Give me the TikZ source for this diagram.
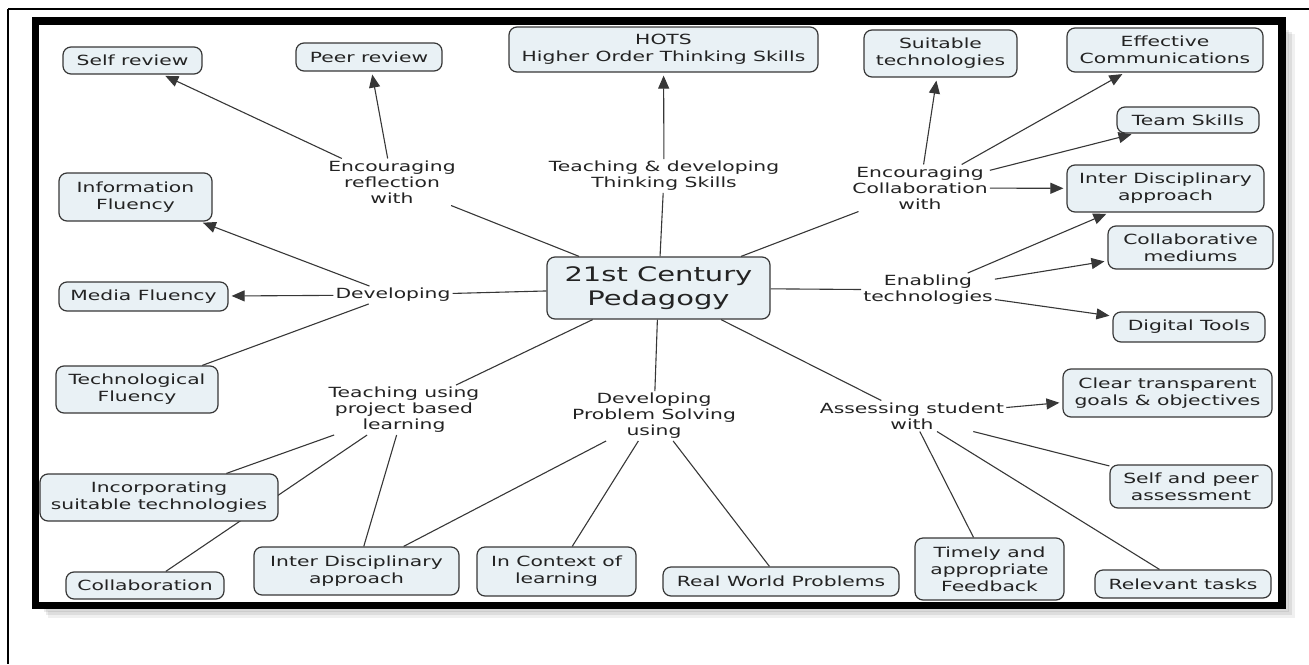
\documentclass[tikz,border=0pt]{standalone}
\usepackage{fontspec}
\newfontfamily\mapfont[FakeStretch=1.45]{DejaVu Sans}
\usepackage{tikz}
\usetikzlibrary{arrows.meta,backgrounds,positioning}

\definecolor{boxfill}{RGB}{233,241,245}
\definecolor{linkgray}{RGB}{55,55,55}
\definecolor{textgray}{RGB}{35,35,35}

\tikzset{
  concept/.style={draw=linkgray, line width=1.2pt, rounded corners=8pt, fill=boxfill, text=textgray, align=center, inner sep=0pt, font=\mapfont\fontsize{14}{17}\selectfont},
  linkphrase/.style={text=textgray, align=center, inner sep=2pt, font=\mapfont\fontsize{14}{16}\selectfont},
  tie/.style={draw=linkgray, line width=1.1pt},
  pointer/.style={tie, -{Triangle[length=13pt,width=11pt]}, shorten >=3pt},
}

\begin{document}
\begin{tikzpicture}[x=1pt,y=1pt,yscale=-1,xscale=1]
  \useasboundingbox (0,0) rectangle (1309,664);

  %Frame lines
  \draw [line width=1.5pt] (8,9) -- (1309,9);
  \draw [line width=1.5pt] (8,9) -- (8,664);
  %Shadow of the frame
  \draw [black, opacity=0.08, line width=7pt] (44,608) -- (1285,608) -- (1285,30);
  \draw [black, opacity=0.08, line width=7pt] (46,611) -- (1288,611) -- (1288,32);
  \draw [black, opacity=0.06, line width=7pt] (48,614) -- (1291,614) -- (1291,34);
  \draw [line width=7.5pt] (35.5,21) rectangle (1282,605.5);

  % Centre node
  \node [concept, minimum width=223pt, minimum height=62pt, font=\mapfont\fontsize{20}{24}\selectfont] (pedagogy) at (658.5,288) {21st Century\\Pedagogy};

  % Text Node
  \node [linkphrase] (refl) at (392,182) {Encouraging\\reflection\\with};
  \node [linkphrase] (think) at (664,176) {Teaching \& developing\\Thinking Skills};
  \node [linkphrase] (collab) at (920,188) {Encouraging\\Collaboration\\with};
  \node [linkphrase] (develop) at (393,295) {Developing};
  \node [linkphrase] (enable) at (928,290) {Enabling\\technologies};
  \node [linkphrase] (pbl) at (404,410) {Teaching using\\project based\\learning};
  \node [linkphrase] (dps) at (654,416) {Developing\\Problem Solving\\using};
  \node [linkphrase] (assess) at (912,416) {Assessing student\\with};

  % Concept boxes
  \node [concept, minimum width=139pt, minimum height=27pt] (selfrev) at (132.5,60.5) {Self review};
  \node [concept, minimum width=146pt, minimum height=28pt] (peerrev) at (369,57) {Peer review};
  \node [concept, minimum width=309pt, minimum height=45pt] (hots) at (663.5,49.5) {HOTS\\Higher Order Thinking Skills};
  \node [concept, minimum width=153pt, minimum height=47pt] (suitable) at (940.5,53.5) {Suitable\\technologies};
  \node [concept, minimum width=196pt, minimum height=44pt] (effcomm) at (1165,50) {Effective\\Communications};
  \node [concept, minimum width=142pt, minimum height=26pt] (team) at (1188,120) {Team Skills};
  \node [concept, minimum width=197pt, minimum height=47pt] (interright) at (1165.5,188.5) {Inter Disciplinary\\approach};
  \node [concept, minimum width=165pt, minimum height=43pt] (collabmed) at (1190.5,247.5) {Collaborative\\mediums};
  \node [concept, minimum width=152pt, minimum height=30pt] (digital) at (1189,327) {Digital Tools};
  \node [concept, minimum width=209pt, minimum height=48pt] (clear) at (1167.5,393) {Clear transparent\\goals \& objectives};
  \node [concept, minimum width=162pt, minimum height=43pt] (selfpeer) at (1191,486.5) {Self and peer\\assessment};
  \node [concept, minimum width=149pt, minimum height=62pt] (timely) at (989.5,569) {Timely and\\appropriate\\Feedback};
  \node [concept, minimum width=176pt, minimum height=28pt] (relevant) at (1183,584) {Relevant tasks};
  \node [concept, minimum width=236pt, minimum height=29pt] (realworld) at (781,581.5) {Real World Problems};
  \node [concept, minimum width=159pt, minimum height=49pt] (context) at (556.5,571.5) {In Context of\\learning};
  \node [concept, minimum width=205pt, minimum height=48pt] (interbottom) at (356.5,571) {Inter Disciplinary\\approach};
  \node [concept, minimum width=158pt, minimum height=27pt] (collabo) at (145,585.5) {Collaboration};
  \node [concept, minimum width=238pt, minimum height=47pt] (incorp) at (159,497.5) {Incorporating\\suitable technologies};
  \node [concept, minimum width=162pt, minimum height=47pt] (techflu) at (137,389.5) {Technological\\Fluency};
  \node [concept, minimum width=169pt, minimum height=29pt] (media) at (143.5,296.5) {Media Fluency};
  \node [concept, minimum width=153pt, minimum height=48pt] (infoflu) at (135.5,197) {Information\\Fluency};

  \begin{scope}[on background layer]
    %Straight Lines from the centre
    \draw [tie] (pedagogy) -- (refl);
    \draw [tie] (pedagogy) -- (think);
    \draw [tie] (pedagogy) -- (collab);
    \draw [tie] (pedagogy) -- (develop);
    \draw [tie] (pedagogy) -- (enable);
    \draw [tie] (pedagogy) -- (pbl);
    \draw [tie] (pedagogy) -- (dps);
    \draw [tie] (pedagogy) -- (assess);
    %Arrows
    \draw [pointer] (refl) -- (selfrev);
    \draw [pointer] (refl) -- (peerrev);
    \draw [pointer] (think) -- (hots);
    \draw [pointer] (collab) -- (suitable);
    \draw [pointer] (collab) -- (effcomm);
    \draw [pointer] (collab) -- (team);
    \draw [pointer] (collab) -- (interright);
    \draw [pointer] (enable) -- (interright);
    \draw [pointer] (enable) -- (collabmed);
    \draw [pointer] (enable) -- (digital);
    \draw [pointer] (assess) -- (clear);
    \draw [pointer] (develop) -- (infoflu);
    \draw [pointer] (develop) -- (media);
    %Straight Lines
    \draw [tie] (develop) -- (techflu);
    \draw [tie] (assess) -- (selfpeer);
    \draw [tie] (assess) -- (timely);
    \draw [tie] (assess) -- (relevant);
    \draw [tie] (pbl) -- (incorp);
    \draw [tie] (pbl) -- (collabo);
    \draw [tie] (pbl) -- (interbottom);
    \draw [tie] (dps) -- (interbottom);
    \draw [tie] (dps) -- (context);
    \draw [tie] (dps) -- (realworld);
  \end{scope}
\end{tikzpicture}
\end{document}
